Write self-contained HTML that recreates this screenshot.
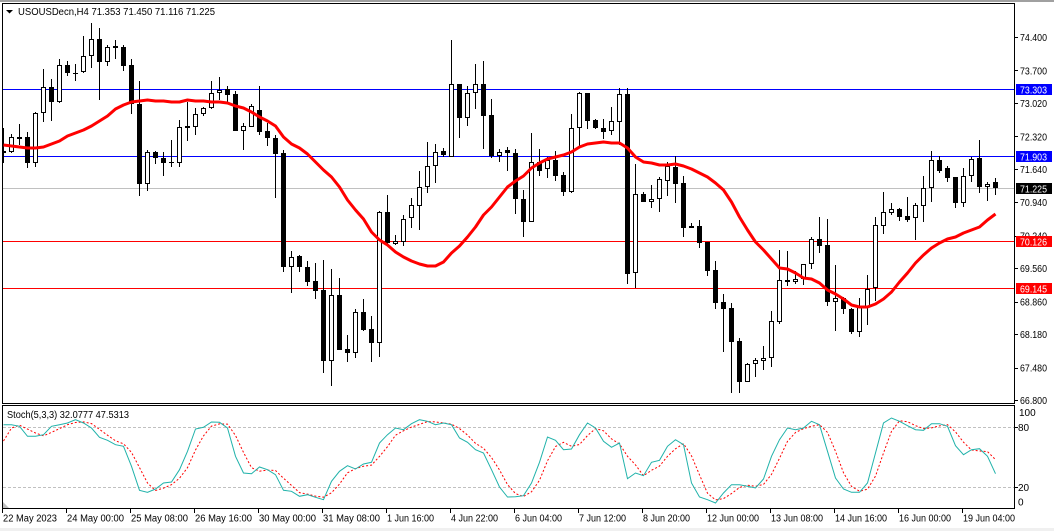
<!DOCTYPE html>
<html><head><meta charset="utf-8"><style>
html,body{margin:0;padding:0;background:#fff;}
svg{display:block;font-family:"Liberation Sans",sans-serif;}
</style></head><body>
<svg width="1054" height="531" viewBox="0 0 1054 531" xmlns="http://www.w3.org/2000/svg">
<defs>
<clipPath id="cm"><rect x="3" y="4" width="1011" height="399"/></clipPath>
<clipPath id="cs"><rect x="3" y="406" width="1011" height="102"/></clipPath>
</defs>
<rect x="0" y="0" width="1054" height="531" fill="#fff"/>
<rect x="0" y="0" width="1054" height="2" fill="#a0a0a0"/>
<rect x="0" y="528" width="1054" height="3" fill="#f0f0f0"/>

<g clip-path="url(#cm)">
<g shape-rendering="crispEdges">
<path d="M3 89.5H1014" stroke="#0000ff" stroke-width="1"/>
<path d="M3 156.5H1014" stroke="#0000ff" stroke-width="1"/>
<path d="M3 188.5H1014" stroke="#c0c0c0" stroke-width="1"/>
<path d="M3 241.5H1014" stroke="#ff0000" stroke-width="1"/>
<path d="M3 288.5H1014" stroke="#ff0000" stroke-width="1"/>
<path fill="none" stroke="#000" stroke-width="1" d="M3.5 128V163M11.5 134V153M19.5 124V145M27.5 132V168M35.5 112V167M43.5 69V122M51.5 79V121M59.5 59V103M67.5 61V76M75.5 64V81M83.5 36V73M91.5 23V68M99.5 28V100M107.5 45V66M115.5 40V59M123.5 45V71M131.5 59V114M139.5 81V196M147.5 150V191M155.5 151V164M163.5 152V176M171.5 140V167M179.5 120V167M187.5 102V141M195.5 108V135M203.5 107V116M211.5 81V109M219.5 77V100M227.5 86V102M235.5 91V131M243.5 123V150M251.5 104V127M259.5 86V135M267.5 123V146M275.5 135V198M283.5 150V272M291.5 251V293M299.5 255V272M307.5 261V286M315.5 263V299M323.5 260V373M331.5 269V386M339.5 278V350M347.5 335V362M355.5 309V358M363.5 299V331M371.5 316V362M379.5 211V357M387.5 195V246M395.5 235V245M403.5 215V246M411.5 198V228M419.5 171V230M427.5 142V193M435.5 144V183M443.5 148V157M451.5 40V157M459.5 84V138M467.5 86V126M475.5 64V109M483.5 61V149M491.5 99V158M499.5 149V162M507.5 147V171M515.5 149V214M523.5 190V237M531.5 133V222M539.5 149V176M547.5 157V178M555.5 151V181M563.5 172V196M571.5 114V193M579.5 92V148M587.5 93V129M595.5 119V129M603.5 119V139M611.5 107V135M619.5 88V145M627.5 88V284M635.5 164V288M643.5 192V202M651.5 185V208M659.5 177V212M667.5 162V196M675.5 156V203M683.5 176V237M691.5 223V228M699.5 220V248M707.5 242V276M715.5 261V309M723.5 294V352M731.5 303V393M739.5 338V393M747.5 363V382M755.5 358V377M763.5 346V370M771.5 311V367M779.5 250V324M787.5 251V286M795.5 271V284M803.5 264V285M811.5 237V269M819.5 217V253M827.5 219V306M835.5 265V331M843.5 297V314M851.5 308V334M859.5 298V337M867.5 275V325M875.5 217V301M883.5 192V234M891.5 203V215M899.5 208V221M907.5 197V222M915.5 203V240M923.5 176V222M931.5 151V202M939.5 156V173M947.5 166V182M955.5 177V208M963.5 168V207M971.5 157V182M979.5 140V193M987.5 182V201M995.5 178V195"/>
<path fill="#000" d="M25 137h5V163h-5zM49 87h5V102h-5zM65 65h5V73h-5zM73 73h5V74h-5zM97 39h5V62h-5zM113 46h5V48h-5zM121 47h5V66h-5zM129 65h5V104h-5zM137 104h5V184h-5zM153 152h5V158h-5zM161 158h5V163h-5zM169 162h5V163h-5zM185 126h5V128h-5zM225 89h5V95h-5zM233 94h5V131h-5zM257 110h5V132h-5zM265 131h5V138h-5zM273 138h5V154h-5zM281 153h5V267h-5zM297 256h5V267h-5zM305 267h5V282h-5zM313 281h5V291h-5zM321 290h5V361h-5zM337 295h5V350h-5zM345 349h5V353h-5zM361 312h5V330h-5zM369 329h5V343h-5zM385 212h5V243h-5zM441 151h5V155h-5zM457 84h5V118h-5zM481 84h5V116h-5zM489 115h5V156h-5zM505 150h5V153h-5zM513 153h5V199h-5zM521 199h5V222h-5zM537 162h5V171h-5zM553 160h5V176h-5zM561 175h5V192h-5zM585 93h5V121h-5zM593 120h5V128h-5zM601 128h5V132h-5zM625 94h5V274h-5zM641 194h5V202h-5zM673 167h5V184h-5zM681 183h5V228h-5zM689 226h5V228h-5zM697 226h5V243h-5zM705 242h5V271h-5zM713 270h5V303h-5zM721 302h5V309h-5zM729 308h5V342h-5zM737 341h5V382h-5zM785 280h5V282h-5zM817 239h5V246h-5zM825 245h5V302h-5zM841 298h5V309h-5zM849 309h5V332h-5zM897 209h5V217h-5zM905 216h5V220h-5zM937 160h5V171h-5zM945 168h5V178h-5zM953 177h5V203h-5zM977 158h5V187h-5zM993 182h5V188h-5z"/>
<path fill="#fff" stroke="#000" stroke-width="1" d="M1.5 151.5h4V152.5h-4zM9.5 137.5h4V151.5h-4zM17.5 137.5h4V138.5h-4zM33.5 113.5h4V162.5h-4zM41.5 87.5h4V112.5h-4zM57.5 65.5h4V101.5h-4zM81.5 56.5h4V71.5h-4zM89.5 39.5h4V55.5h-4zM105.5 47.5h4V61.5h-4zM145.5 152.5h4V183.5h-4zM177.5 127.5h4V162.5h-4zM193.5 114.5h4V126.5h-4zM201.5 108.5h4V113.5h-4zM209.5 93.5h4V107.5h-4zM217.5 90.5h4V92.5h-4zM241.5 126.5h4V130.5h-4zM249.5 106.5h4V126.5h-4zM289.5 257.5h4V266.5h-4zM329.5 295.5h4V360.5h-4zM353.5 312.5h4V352.5h-4zM377.5 212.5h4V342.5h-4zM393.5 241.5h4V243.5h-4zM401.5 219.5h4V241.5h-4zM409.5 205.5h4V217.5h-4zM417.5 187.5h4V205.5h-4zM425.5 166.5h4V186.5h-4zM433.5 152.5h4V165.5h-4zM449.5 84.5h4V156.5h-4zM465.5 93.5h4V117.5h-4zM473.5 84.5h4V92.5h-4zM497.5 152.5h4V155.5h-4zM529.5 162.5h4V221.5h-4zM545.5 160.5h4V168.5h-4zM569.5 128.5h4V191.5h-4zM577.5 93.5h4V127.5h-4zM609.5 121.5h4V130.5h-4zM617.5 94.5h4V121.5h-4zM633.5 194.5h4V272.5h-4zM649.5 199.5h4V201.5h-4zM657.5 179.5h4V198.5h-4zM665.5 166.5h4V180.5h-4zM745.5 364.5h4V381.5h-4zM753.5 360.5h4V363.5h-4zM761.5 358.5h4V360.5h-4zM769.5 321.5h4V357.5h-4zM777.5 280.5h4V321.5h-4zM793.5 279.5h4V281.5h-4zM801.5 264.5h4V278.5h-4zM809.5 239.5h4V263.5h-4zM833.5 298.5h4V301.5h-4zM857.5 306.5h4V331.5h-4zM865.5 289.5h4V306.5h-4zM873.5 225.5h4V287.5h-4zM881.5 212.5h4V225.5h-4zM889.5 209.5h4V212.5h-4zM913.5 205.5h4V217.5h-4zM921.5 188.5h4V205.5h-4zM929.5 160.5h4V187.5h-4zM961.5 176.5h4V202.5h-4zM969.5 159.5h4V175.5h-4zM985.5 184.5h4V186.5h-4z"/>
</g>
<polyline fill="none" stroke="#ff0000" stroke-width="3" stroke-linejoin="round" points="3.5,145 11.5,146 19.5,147 27.5,148 35.5,148 43.5,147 51.5,144 59.5,141 67.5,136 75.5,133 83.5,130 91.5,126 99.5,121 107.5,116 115.5,109 123.5,105 131.5,102 139.5,101 147.5,100 155.5,101 163.5,101 171.5,102 179.5,102 187.5,100 195.5,101 203.5,101 211.5,102 219.5,102 227.5,103 235.5,106 243.5,108 251.5,112 259.5,117 267.5,121 275.5,126 283.5,137 291.5,144 299.5,148 307.5,154 315.5,162 323.5,170 331.5,177 339.5,187 347.5,200 355.5,210 363.5,219 371.5,232 379.5,240 387.5,245 395.5,252 403.5,257 411.5,261 419.5,264 427.5,266 435.5,266 443.5,262 451.5,253 459.5,246 467.5,237 475.5,227 483.5,215 491.5,207 499.5,197 507.5,187 515.5,181 523.5,176 531.5,168 539.5,163 547.5,159 555.5,157 563.5,155 571.5,152 579.5,147 587.5,144 595.5,143 603.5,142 611.5,143 619.5,143 627.5,148 635.5,157 643.5,162 651.5,163 659.5,165 667.5,165 675.5,164 683.5,166 691.5,169 699.5,173 707.5,177 715.5,183 723.5,190 731.5,202 739.5,217 747.5,230 755.5,242 763.5,250 771.5,259 779.5,268 787.5,269 795.5,273 803.5,278 811.5,279 819.5,283 827.5,290 835.5,294 843.5,299 851.5,305 859.5,307 867.5,307 875.5,304 883.5,299 891.5,292 899.5,282 907.5,273 915.5,263 923.5,255 931.5,248 939.5,243 947.5,239 955.5,237 963.5,233 971.5,230 979.5,227 987.5,220 995.5,214"/>
</g>

<!-- title -->
<polygon points="6,10 13,10 9.5,13.5" fill="#000"/>
<text x="18" y="15" font-size="10" fill="#000" textLength="197" lengthAdjust="spacingAndGlyphs">USOUSDecn,H4  71.353 71.450 71.116 71.225</text>

<!-- stochastic panel -->
<g clip-path="url(#cs)">
<path d="M3 427.5H1014M3 487.5H1014" stroke="#c0c0c0" stroke-width="1" stroke-dasharray="3 2" shape-rendering="crispEdges"/>
<polyline fill="none" stroke="#ff0000" stroke-width="1" stroke-dasharray="2 2" points="3.5,441 11.5,428 19.5,425.2 27.5,429.1 35.5,433 43.5,435.8 51.5,432.4 59.5,428.6 67.5,424.7 75.5,422.5 83.5,421.9 91.5,423.6 99.5,429.4 107.5,435.2 115.5,440.8 123.5,443.8 131.5,452.4 139.5,467.6 147.5,483 155.5,490.5 163.5,488.1 171.5,484.7 179.5,478.2 187.5,467.7 195.5,450 203.5,435.9 211.5,426.1 219.5,423.9 227.5,424.1 235.5,435.5 243.5,452.4 251.5,467.7 259.5,471.2 267.5,470.1 275.5,470.5 283.5,478.2 291.5,485.4 299.5,492.6 307.5,494.1 315.5,496.1 323.5,497.2 331.5,492.8 339.5,484.1 347.5,472.8 355.5,468.7 363.5,466.2 371.5,465.1 379.5,456.4 387.5,446.7 395.5,435.2 403.5,430.8 411.5,427.1 419.5,424.4 427.5,421.6 435.5,421.9 443.5,423 451.5,424.1 459.5,428.6 467.5,435 475.5,443.3 483.5,448.3 491.5,457.5 499.5,469.9 507.5,484.6 515.5,493.6 523.5,496.5 531.5,491.8 539.5,480.3 547.5,460.8 555.5,446.5 563.5,442.3 571.5,446.3 579.5,444.5 587.5,435.6 595.5,428.6 603.5,430.8 611.5,438.9 619.5,443.9 627.5,456.3 635.5,464.9 643.5,475.8 651.5,470.3 659.5,466.1 667.5,456.3 675.5,448.8 683.5,443.6 691.5,455.8 699.5,474.9 707.5,493.2 715.5,499.9 723.5,498.6 731.5,493.6 739.5,487.5 747.5,485.2 755.5,486.3 763.5,484.4 771.5,474.4 779.5,458.3 787.5,441.3 795.5,432.5 803.5,428.6 811.5,426.3 819.5,424.7 827.5,432.4 835.5,451.3 843.5,472.8 851.5,486.4 859.5,491.2 867.5,489.2 875.5,476.1 883.5,453 891.5,431.3 899.5,420.8 907.5,421.7 915.5,425.6 923.5,428.6 931.5,427.9 939.5,425.9 947.5,424.6 955.5,431.9 963.5,442.2 971.5,450 979.5,451 987.5,451.6 995.5,459.6"/>
<polyline fill="none" stroke="#20b2aa" stroke-width="1" points="3.5,424.7 11.5,424.7 19.5,426.3 27.5,436.3 35.5,436.3 43.5,434.7 51.5,426.3 59.5,424.7 67.5,423 75.5,419.7 83.5,423 91.5,428 99.5,437.3 107.5,440.3 115.5,444.7 123.5,446.3 131.5,466.3 139.5,490.3 147.5,492.3 155.5,489 163.5,483 171.5,482 179.5,469.7 187.5,451.3 195.5,429 203.5,427.3 211.5,422 219.5,422.3 227.5,428 235.5,456.3 243.5,473 251.5,473.7 259.5,467 267.5,469.7 275.5,474.7 283.5,490.3 291.5,491.3 299.5,496.3 307.5,494.7 315.5,497.3 323.5,499.7 331.5,481.3 339.5,471.3 347.5,465.7 355.5,469 363.5,464 371.5,462.3 379.5,443 387.5,434.7 395.5,428 403.5,429.7 411.5,423.7 419.5,419.7 427.5,421.3 435.5,424.7 443.5,423 451.5,424.7 459.5,438 467.5,442.3 475.5,449.7 483.5,453 491.5,469.7 499.5,487 507.5,497 515.5,496.7 523.5,495.7 531.5,483 539.5,462.3 547.5,437 555.5,440.3 563.5,449.7 571.5,449 579.5,434.7 587.5,423 595.5,428 603.5,441.3 611.5,447.3 619.5,443 627.5,478.7 635.5,473 643.5,475.7 651.5,462.3 659.5,460.3 667.5,446.3 675.5,439.7 683.5,444.7 691.5,483 699.5,497 707.5,499.7 715.5,503 723.5,493 731.5,484.7 739.5,484.7 747.5,486.3 755.5,488 763.5,479 771.5,456.3 779.5,439.7 787.5,428 795.5,429.7 803.5,428 811.5,421.3 819.5,424.7 827.5,451.3 835.5,478 843.5,489 851.5,492.3 859.5,492.3 867.5,483 875.5,453 883.5,423 891.5,418 899.5,421.3 907.5,425.7 915.5,429.7 923.5,430.3 931.5,423.7 939.5,423.7 947.5,426.3 955.5,445.7 963.5,454.7 971.5,449.7 979.5,448.7 987.5,456.3 995.5,473.7"/>
<polygon points="3,502 3,508 9,508" fill="#c0c0c0"/>
</g>
<text x="7" y="418" font-size="10" fill="#000" textLength="122" lengthAdjust="spacingAndGlyphs">Stoch(5,3,3) 32.0777 47.5313</text>

<!-- frames -->
<g shape-rendering="crispEdges" fill="none" stroke="#000" stroke-width="1">
<path d="M2.5 3.5H1014.5V403.5H2.5Z"/>
<path d="M2.5 405.5H1014.5V508.5H2.5Z"/>
<path d="M1014 37.5h4M1014 70.5h4M1014 103.5h4M1014 136.5h4M1014 169.5h4M1014 202.5h4M1014 236.5h4M1014 268.5h4M1014 302.5h4M1014 334.5h4M1014 368.5h4M1014 400.5h4M1014 427.5h4M1014 487.5h4"/>
<path d="M2.5 509v4M66.5 509v4M130.5 509v4M194.5 509v4M258.5 509v4M322.5 509v4M386.5 509v4M450.5 509v4M514.5 509v4M578.5 509v4M642.5 509v4M706.5 509v4M770.5 509v4M834.5 509v4M898.5 509v4M962.5 509v4"/>
</g>

<!-- price axis -->
<g font-size="10" fill="#000">
<text x="1020" y="41" textLength="27" lengthAdjust="spacingAndGlyphs">74.400</text>
<text x="1020" y="74.3" textLength="27" lengthAdjust="spacingAndGlyphs">73.700</text>
<text x="1020" y="107" textLength="27" lengthAdjust="spacingAndGlyphs">73.020</text>
<text x="1020" y="140.3" textLength="27" lengthAdjust="spacingAndGlyphs">72.320</text>
<text x="1020" y="173" textLength="27" lengthAdjust="spacingAndGlyphs">71.640</text>
<text x="1020" y="206.2" textLength="27" lengthAdjust="spacingAndGlyphs">70.940</text>
<text x="1020" y="239.6" textLength="27" lengthAdjust="spacingAndGlyphs">70.240</text>
<text x="1020" y="272.2" textLength="27" lengthAdjust="spacingAndGlyphs">69.560</text>
<text x="1020" y="305.5" textLength="27" lengthAdjust="spacingAndGlyphs">68.860</text>
<text x="1020" y="338.2" textLength="27" lengthAdjust="spacingAndGlyphs">68.180</text>
<text x="1020" y="371.5" textLength="27" lengthAdjust="spacingAndGlyphs">67.480</text>
<text x="1020" y="404.2" textLength="27" lengthAdjust="spacingAndGlyphs">66.800</text>
<text x="1019" y="416">100</text>
<text x="1018" y="431">80</text>
<text x="1018" y="491">20</text>
<text x="1018" y="505.5">0</text>
</g>
<g shape-rendering="crispEdges">
<rect x="1016" y="84" width="36" height="11" fill="#0000ff"/>
<rect x="1016" y="151" width="36" height="11" fill="#0000ff"/>
<rect x="1016" y="183" width="36" height="11" fill="#000"/>
<rect x="1016" y="236" width="36" height="11" fill="#ff0000"/>
<rect x="1016" y="283" width="36" height="11" fill="#ff0000"/>
</g>
<g font-size="10" fill="#fff">
<text x="1020" y="93.3" textLength="27" lengthAdjust="spacingAndGlyphs">73.303</text>
<text x="1020" y="160.3" textLength="27" lengthAdjust="spacingAndGlyphs">71.903</text>
<text x="1020" y="192.3" textLength="27" lengthAdjust="spacingAndGlyphs">71.225</text>
<text x="1020" y="245.3" textLength="27" lengthAdjust="spacingAndGlyphs">70.126</text>
<text x="1020" y="292.3" textLength="27" lengthAdjust="spacingAndGlyphs">69.145</text>
</g>

<!-- time axis -->
<g font-size="10" fill="#000">
<text x="3" y="521.5" textLength="54" lengthAdjust="spacingAndGlyphs">22 May 2023</text>
<text x="67" y="521.5" textLength="57" lengthAdjust="spacingAndGlyphs">24 May 00:00</text>
<text x="131" y="521.5" textLength="57" lengthAdjust="spacingAndGlyphs">25 May 08:00</text>
<text x="195" y="521.5" textLength="57" lengthAdjust="spacingAndGlyphs">26 May 16:00</text>
<text x="259" y="521.5" textLength="57" lengthAdjust="spacingAndGlyphs">30 May 00:00</text>
<text x="323" y="521.5" textLength="57" lengthAdjust="spacingAndGlyphs">31 May 08:00</text>
<text x="387" y="521.5" textLength="47" lengthAdjust="spacingAndGlyphs">1 Jun 16:00</text>
<text x="451" y="521.5" textLength="47" lengthAdjust="spacingAndGlyphs">4 Jun 22:00</text>
<text x="515" y="521.5" textLength="47" lengthAdjust="spacingAndGlyphs">6 Jun 04:00</text>
<text x="579" y="521.5" textLength="47" lengthAdjust="spacingAndGlyphs">7 Jun 12:00</text>
<text x="643" y="521.5" textLength="47" lengthAdjust="spacingAndGlyphs">8 Jun 20:00</text>
<text x="707" y="521.5" textLength="52" lengthAdjust="spacingAndGlyphs">12 Jun 00:00</text>
<text x="771" y="521.5" textLength="52" lengthAdjust="spacingAndGlyphs">13 Jun 08:00</text>
<text x="835" y="521.5" textLength="52" lengthAdjust="spacingAndGlyphs">14 Jun 16:00</text>
<text x="899" y="521.5" textLength="52" lengthAdjust="spacingAndGlyphs">16 Jun 00:00</text>
<text x="963" y="521.5" textLength="52" lengthAdjust="spacingAndGlyphs">19 Jun 04:00</text>
</g>
</svg>
</body></html>
